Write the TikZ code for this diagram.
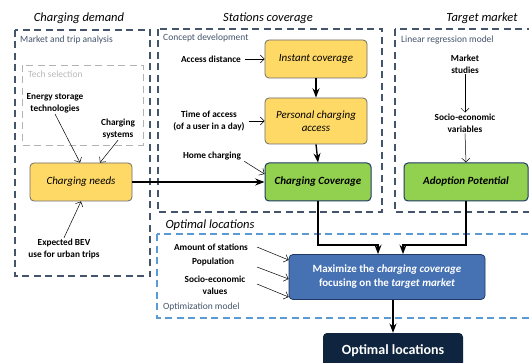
\documentclass[tikz,border=0pt]{standalone}
\usepackage{fontspec}
\setmainfont{Carlito}
\usetikzlibrary{positioning}
\usetikzlibrary{arrows.meta}
\definecolor{needyellow}{HTML}{FFD966}
\definecolor{covgreen}{HTML}{92D050}
\definecolor{navyline}{HTML}{1F3864}
\definecolor{grpblue}{HTML}{44546A}
\definecolor{optblue}{HTML}{5B9BD5}
\definecolor{maxblue}{HTML}{4672B4}
\definecolor{finalnavy}{HTML}{0F243E}
\tikzset{>=Stealth}
\tikzset{yelbox/.style={draw=gray!85!black, fill=needyellow, rounded corners=4pt, line width=0.8pt, minimum width=102pt, minimum height=38pt, align=center, font=\fontsize{11}{13.5}\selectfont\itshape}}
\tikzset{grnbox/.style={draw=navyline, fill=covgreen, rounded corners=4pt, line width=1pt, minimum height=38pt, align=center, font=\fontsize{11}{13.5}\selectfont\bfseries\itshape}}
\tikzset{inp/.style={font=\fontsize{9.3}{12}\selectfont\bfseries, align=center, inner sep=1pt}}
\tikzset{grp/.style={draw=grpblue, dash pattern=on 7pt off 4.5pt, line width=1.1pt}}
\tikzset{grplbl/.style={font=\fontsize{9.5}{11}\selectfont, text=grpblue, anchor=west, inner sep=0pt}}
\tikzset{ttl/.style={font=\fontsize{12.5}{15}\selectfont\itshape}}
\tikzset{thk/.style={->, line width=1.4pt}}
\tikzset{thn/.style={-{Straight Barb[length=4pt]}, line width=0.5pt}}

\begin{document}
\begin{tikzpicture}[x=1pt, y=-1pt]
        \fill[white] (0,0) rectangle (529,363);
        \useasboundingbox (0,0) rectangle (529,363);

        % titles
        \node[ttl] (t1) at (79,18) {Charging demand};
        \node[ttl] (t2) at (268,18) {Stations coverage};
        \node[ttl] (t3) at (482,18) {Target market};
        \node[ttl, anchor=west] (t4) at (162,225) {Optimal locations};

        % group frames
        \draw[grp] (15,30) rectangle (150,276);
        \draw[draw=gray!60, dash pattern=on 7pt off 4.5pt, line width=0.8pt] (22,65) rectangle (143,145);
        \draw[grp] (158,29) rectangle (382,212);
        \draw[grp] (395,29) rectangle (540,212);
        \draw[grp, draw=optblue] (157,234) rectangle (540,318);

        \node[grplbl] (g1) at (20,40) {Market and trip analysis};
        \node[grplbl, text=gray!55] (g2) at (28,74) {Tech selection};
        \node[grplbl] (g3) at (163,38) {Concept development};
        \node[grplbl] (g4) at (401,40) {Linear regression model};
        \node[grplbl] (g5) at (163,307) {Optimization model};

        % boxes
        \node[yelbox] (needs) at (81,182) {Charging needs};
        \node[yelbox] (instant) at (316,59) {Instant coverage};
        \node[yelbox, minimum height=46pt] (personal) at (316,121) {Personal charging\\access};
        \node[grnbox, minimum width=106pt] (cover) at (318,182) {Charging Coverage};
        \node[grnbox, minimum width=124pt] (adopt) at (466,182) {Adoption Potential};
        \node[draw=navyline, fill=maxblue, rounded corners=4pt, line width=0.8pt, minimum width=196pt, minimum height=45pt, align=center, text=white, font=\fontsize{11}{14}\selectfont\bfseries] (maxim) at (387,277) {Maximize the \textit{charging coverage}\\focusing on the \textit{target market}};
        \node[fill=finalnavy, rounded corners=4pt, minimum width=140pt, minimum height=36pt, text=white, font=\fontsize{14}{16}\selectfont\bfseries] (optloc) at (393,351) {Optimal locations};

        % inputs
        \node[inp] (energy) at (55,103) {Energy storage\\technologies};
        \node[inp] (chsys) at (118,129) {Charging\\systems};
        \node[inp] (bev) at (64,249) {Expected BEV\\use for urban trips};
        \node[inp] (accdist) at (211,59) {Access distance};
        \node[inp] (timeacc) at (209,121) {Time of access\\(of a user in a day)};
        \node[inp] (home) at (212,156) {Home charging};
        \node[inp] (mkt) at (465,64) {Market\\studies};
        \node[inp] (socv) at (465,123) {Socio-economic\\variables};
        \node[inp] (amount) at (211,247) {Amount of stations};
        \node[inp] (popul) at (213,262) {Population};
        \node[inp] (socval) at (215,285) {Socio-economic\\values};

        \coordinate (a1) at (257,247);
        \coordinate (a2) at (257,267);
        \coordinate (a3) at (257,284);
        \coordinate (j1) at (378,245);
        \coordinate (j2) at (403,245);

        % thin arrows
        \draw[thn] (energy.south) -- ([xshift=-1pt]needs.north);
        \draw[thn] (chsys.south) -- ([xshift=19pt]needs.north);
        \draw[thn] (bev.north) -- (needs.south);
        \draw[thn] ([xshift=3pt]accdist.east) -- (instant.west);
        \draw[thn] ([xshift=3pt]timeacc.east) -- (personal.west);
        \draw[thn] ([xshift=2pt]home.south east) -- ([yshift=8pt]cover.west);
        \draw[thn] (mkt.south) -- (socv.north);
        \draw[thn] (socv.south) -- (adopt.north);
        \draw[thn] (a1) -- ([yshift=17pt]maxim.west);
        \draw[thn] (a2) -- ([yshift=-2pt]maxim.west);
        \draw[thn] (a3) -- ([yshift=-20pt]maxim.west);

        % thick arrows
        \draw[thk] (needs.east) -- (cover.west);
        \draw[thk] (instant.south) -- (personal.north);
        \draw[thk] (personal.south) -- (cover.north);
        \draw[thk] (cover.south) |- (j1) -- (j1 |- maxim.north);
        \draw[thk] (adopt.south) |- (j2) -- (j2 |- maxim.north);
        \draw[thk] (maxim.south -| optloc.north) -- (optloc.north);
\end{tikzpicture}
\end{document}
